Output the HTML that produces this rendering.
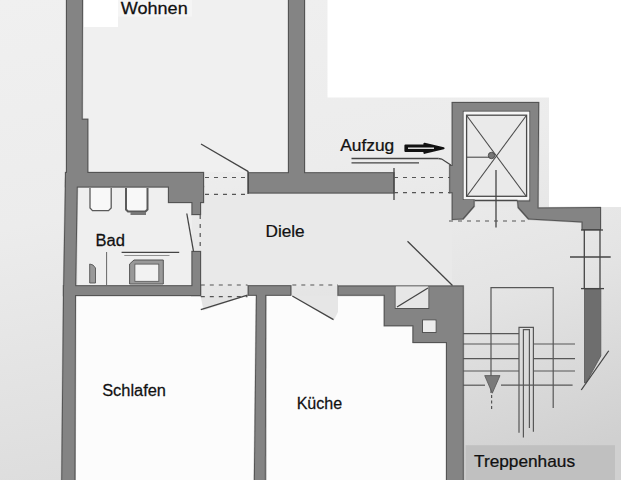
<!DOCTYPE html>
<html><head><meta charset="utf-8">
<style>
html,body{margin:0;padding:0;width:621px;height:480px;overflow:hidden;background:#e3e3e3;}
svg{position:absolute;left:0;top:0;}
text{font-family:"Liberation Sans",sans-serif;fill:#111;stroke:#111;stroke-width:0.25px;}
</style></head><body>
<svg width="621" height="480" viewBox="0 0 621 480">
<!-- background zones -->
<defs>
<linearGradient id="bg" x1="0" y1="0" x2="0.25" y2="1">
<stop offset="0" stop-color="#f0f0f0"/><stop offset="0.45" stop-color="#ececec"/><stop offset="1" stop-color="#dcdcdc"/>
</linearGradient>
<linearGradient id="st" x1="0" y1="0" x2="0.2" y2="1">
<stop offset="0" stop-color="#eaeaea"/><stop offset="0.35" stop-color="#e4e4e4"/><stop offset="1" stop-color="#d0d0d0"/>
</linearGradient>
</defs>
<rect x="0" y="0" width="621" height="480" fill="url(#bg)"/>
<rect x="327.5" y="0" width="294" height="97.5" fill="#ffffff"/>
<rect x="549" y="0" width="72" height="207" fill="#ffffff"/>
<!-- room interiors -->
<rect x="83" y="0" width="205" height="172" fill="#f0f0f0"/>
<rect x="84" y="0" width="34" height="27" fill="#ffffff"/>
<rect x="118" y="0" width="74" height="16.5" fill="#f5f5f5"/>
<rect x="78" y="188" width="114" height="97" fill="#efefef"/>
<polygon points="201,194 452,194 452,286 201,286" fill="#e9e9e9"/>
<polygon points="452,207 621,207 621,480 463,480 463,286 452,286" fill="url(#st)"/>
<rect x="76" y="296" width="180" height="184" fill="#fcfcfc"/>
<polygon points="267,296 384,296 384,326 412,326 412,343 446,343 446,480 267,480" fill="#fcfcfc"/>
<polygon points="200.5,295.5 247.5,295.5 203.5,310.4" fill="#e4e4e4"/>
<polygon points="292,295.5 338,295.5 338,312 333.7,320.6" fill="#e6e6e6"/>
<!-- Treppenhaus label box -->
<rect x="465.6" y="445.2" width="149.4" height="35" fill="#c0c0c0"/>

<defs><g id="walls">
<!-- left wall -->
<polygon points="66,-3 83,-3 82.7,118.7 88.3,118.7 88.3,172 78,172 76,296 75.4,484 61.2,484 63,296 65,180 66,172"/>
<!-- bath top wall -->
<rect x="65" y="172" width="139" height="15.5"/>
<rect x="168" y="186" width="36" height="17"/>
<rect x="191.5" y="200" width="9.5" height="15"/>
<rect x="191.5" y="251" width="9.5" height="45"/>
<rect x="63" y="285.2" width="138" height="10.8"/>
<!-- wohnen right wall -->
<rect x="288" y="-3" width="17" height="176"/>
<!-- diele top wall -->
<rect x="248" y="172.2" width="146.4" height="21.3"/>
<!-- elevator shaft -->
<polygon points="451.7,102 539.2,102 538.5,207.5 601,207 601,230 581.6,230 581.6,222.5 528,219.5 517.7,208 517,200.5 529.2,200.5 529.2,111.75 463.75,111.75 463.75,199 474.6,199 474.6,206.7 463.5,219.5 451.7,220 451.7,193.3 449.2,193.3 449.2,165 451.7,165"/>
<!-- right dark block -->

<!-- middle wall segments -->
<rect x="247.8" y="285.2" width="43.5" height="10.6"/>
<!-- junction block -->
<path d="M337.5,285.5 L463.75,285.5 L463.75,484 L446,484 L446,343 L412.5,343 L412.5,326.3 L383.75,326.3 L383.75,295.8 L337.5,295.8 Z M395.75,286.5 L428.25,286.5 L428.25,308 L395.75,308 Z M423,320.5 L435.5,320.5 L435.5,332 L423,332 Z" fill-rule="evenodd"/>
<!-- center vertical wall -->
<polygon points="256,290 266.2,290 265.8,484 253.8,484"/>
</g></defs>
<filter id="er" x="-5%" y="-5%" width="110%" height="110%"><feMorphology operator="erode" radius="0.9"/></filter>
<use href="#walls" fill="#555555" stroke="#555555" stroke-width="0.3"/>
<use href="#walls" fill="#848484" filter="url(#er)"/>

<polygon points="584.5,289 600.8,289 600.8,356 586.5,382 584.5,383" fill="#6e6e6e" stroke="#555" stroke-width="0.8"/>
<!-- inner shaft light -->
<rect x="395.75" y="286.5" width="32.5" height="21.5" fill="#e6e6e6"/>
<rect x="423" y="320.5" width="12.5" height="11.5" fill="#ececec"/>

<rect x="463.75" y="111.75" width="65.45" height="87.5" fill="#f6f6f6"/>
<rect x="466.6" y="115.2" width="60" height="81.1" fill="#eaeaea" stroke="#4a4a4a" stroke-width="1.3"/>
<g stroke="#4a4a4a" stroke-width="1.1">
<line x1="467" y1="116" x2="526" y2="196"/>
<line x1="526" y1="116" x2="467" y2="196"/>
<line x1="467" y1="157.2" x2="490" y2="157.2"/>
<line x1="474.6" y1="200.4" x2="517.5" y2="200.4" stroke-width="1.5"/>
</g>
<g stroke="#444" stroke-width="1.3" fill="none">
<!-- door swings -->
<line x1="201" y1="144" x2="248" y2="171.4"/>
<line x1="248" y1="171" x2="248" y2="194"/>
<line x1="394" y1="168" x2="394" y2="200"/>
<line x1="186.8" y1="213.5" x2="193.5" y2="251.4"/>
<line x1="200.8" y1="309.7" x2="247.5" y2="295.2"/>
<line x1="292.3" y1="296" x2="333.5" y2="319.6"/>
<line x1="407.5" y1="241.25" x2="452.5" y2="285.5"/>
<line x1="397" y1="307" x2="428" y2="288"/>
<!-- aufzug underlines -->
<line x1="351.5" y1="158.5" x2="438.5" y2="158.5"/>
<line x1="351.5" y1="162.8" x2="419" y2="162.8"/>
<polyline points="438.5,158.5 441.7,159 450.8,165"/>
<!-- elevator car -->
<line x1="496" y1="170" x2="496" y2="227.5"/>
<!-- window right -->
<line x1="584.3" y1="230" x2="584.3" y2="289"/>
<line x1="600" y1="230" x2="600" y2="289"/>
<line x1="570" y1="257" x2="610.7" y2="257"/>
<line x1="581" y1="230" x2="603" y2="230"/>
<line x1="581" y1="288.6" x2="604" y2="288.6"/>
<line x1="608.75" y1="350.75" x2="581.25" y2="390"/>
<!-- stairs -->
<g stroke="#575757" stroke-width="1.2">
<polyline points="491,393 491,287.6 553.2,287.6 553.2,408"/>
<polyline points="519,432.7 519,327.4 533.4,327.4 533.4,431.8"/>
<polyline points="523.4,437.6 523.4,329.6 529.4,329.6 529.4,428"/>
<line x1="463" y1="333.6" x2="519" y2="333.6"/>
<line x1="463" y1="344" x2="519" y2="344"/><line x1="533.4" y1="344" x2="575" y2="344"/>
<line x1="463" y1="358.6" x2="519" y2="358.6"/><line x1="533.4" y1="358.6" x2="575" y2="358.6"/>
<line x1="463" y1="371" x2="519" y2="371"/><line x1="533.4" y1="371" x2="575" y2="371"/>
<line x1="463" y1="385.2" x2="485" y2="385.2"/><line x1="501" y1="385.2" x2="572.6" y2="385.2"/>
</g>
<!-- bath fixtures -->
<path d="M90,188 L90,208 L92.5,210.6 L108.5,210.6 L111.2,208 L111.2,188" fill="#f8f8f8" stroke="#5a5a5a" stroke-width="1.3"/>
<path d="M126,188 L126,209.5 L128,211.5 L145.5,211.5 L147.5,209.5 L147.5,188" fill="#f8f8f8" stroke="#5a5a5a" stroke-width="2"/>
<rect x="130.5" y="212" width="15.5" height="3" fill="#777" stroke="none"/>
<path d="M129.6,264 L134,260 L163.3,260 L163.3,284 L129.6,284 Z" fill="#999" stroke="#555" stroke-width="1"/>
<rect x="134.9" y="264.1" width="23.9" height="17.2" fill="#f2f2f2" stroke="#555" stroke-width="0.8"/>
<line x1="121.6" y1="252.4" x2="179.2" y2="252.4" stroke-width="1.3"/>
<line x1="124.3" y1="255.5" x2="169.5" y2="255.5" stroke-width="0.8" stroke="#777"/>
<path d="M89.7,264 L93,265 L95.5,268 L95.5,283 L89.7,283 Z" fill="#999" stroke="#555" stroke-width="0.9"/>
<line x1="106.6" y1="252" x2="106.6" y2="285" stroke-width="1" stroke="#666"/>
</g>
<g stroke="#555" stroke-width="1.2" fill="none" stroke-dasharray="4 5">
<line x1="205" y1="177.5" x2="248" y2="177.5"/>
<line x1="205" y1="194.4" x2="248" y2="194.4"/>
<line x1="394" y1="177.5" x2="450" y2="177.5"/>
<line x1="394" y1="192.7" x2="450" y2="192.7"/>
<line x1="449" y1="221" x2="530" y2="221"/>
<line x1="200.2" y1="215" x2="200.2" y2="251"/>
<line x1="200.8" y1="285" x2="247.5" y2="285"/>
<line x1="200.8" y1="296.6" x2="247.5" y2="296.6"/>
<line x1="292.3" y1="285" x2="338" y2="285"/>
<line x1="491.6" y1="395" x2="491.6" y2="411" stroke-dasharray="3 2.5"/>
</g>
<!-- elevator dot -->
<circle cx="491.5" cy="155.5" r="3.2" fill="#777" stroke="#444" stroke-width="0.9"/>
<!-- triangle -->
<polygon points="484.7,375.6 500,375.6 492.3,393.2" fill="#7a7a7a" stroke="#555" stroke-width="0.8"/>
<!-- arrow -->
<path d="M405.5,145.5 L424.5,145.5 L424.5,143.8 L443.5,148.2 L424.5,152.8 L424.5,151 L405.5,151 Z" fill="#111" stroke="#111" stroke-width="2.2" stroke-linejoin="round"/>
<line x1="408" y1="148.2" x2="434" y2="148.2" stroke="#fff" stroke-width="1.3"/>
<!-- text -->
<text transform="translate(120.80,13.5) scale(1.1279,1)" font-size="16">Wohnen</text>
<text transform="translate(340.20,150.9) scale(1.0851,1)" font-size="16">Aufzug</text>
<text transform="translate(95.51,245.5) scale(1.0324,1)" font-size="16">Bad</text>
<text transform="translate(265.46,237.4) scale(1.0754,1)" font-size="16">Diele</text>
<text transform="translate(102.13,395.6) scale(1.0264,1)" font-size="16">Schlafen</text>
<text transform="translate(296.64,408.6) scale(1.0046,1)" font-size="16">Küche</text>
<text transform="translate(474.03,467.0) scale(1.0792,1)" font-size="16">Treppenhaus</text>
</svg>
</body></html>
